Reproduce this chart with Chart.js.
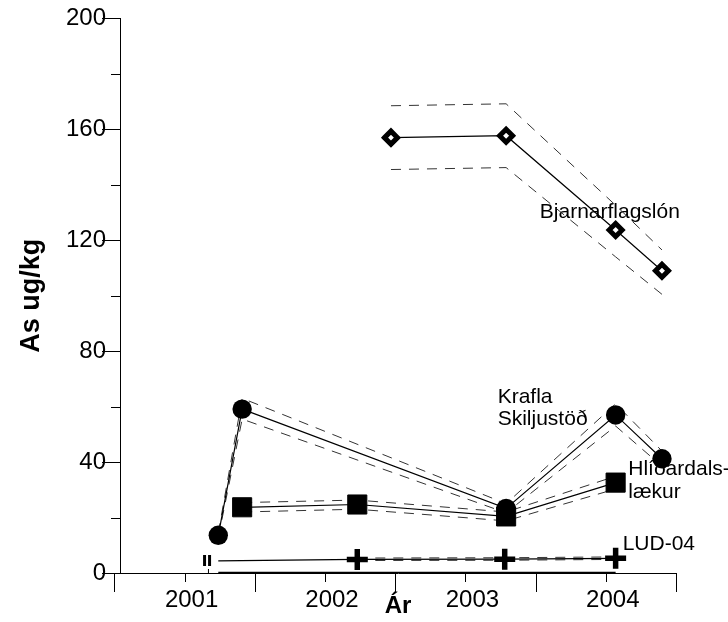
<!DOCTYPE html>
<html lang="en">

<head>
    <meta charset="UTF-8" />
    <script src="https://cdn.jsdelivr.net/npm/chart.js@4.4.1/dist/chart.umd.min.js"></script>
    <style>
        body { margin: 0; background: #fff; }
    </style>
</head>

<body>
    <canvas id="chart" width="728" height="622"></canvas>
    <script>
        // x = decimal year, y = As ug/kg
        const yearTicks = [2000.5, 2001, 2001.5, 2002, 2002.5, 2003, 2003.5, 2004, 2004.5];
        const yearLabels = ['2001', '2002', '2003', '2004'];
        const valueTicks = [0, 20, 40, 60, 80, 100, 120, 140, 160, 180, 200];
        const valueLabels = ['0', '40', '80', '120', '160', '200'];

        const bjarnYears = [2002.47, 2003.29, 2004.07, 2004.40];
        const bjarnValues = [157, 157.7, 123.7, 109];
        const bjarnUpper = [168.5, 169.2, 132.6, 116.5];
        const bjarnLower = [145.5, 146.2, 114, 100.5];

        const kraflaYears = [2001.24, 2001.41, 2003.29, 2004.07, 2004.40];
        const kraflaValues = [13.6, 59.1, 23.3, 57, 41.2];
        const kraflaUpper = [14.4, 63, 25, 61, 44];
        const kraflaLower = [12.8, 55.5, 21.7, 53, 38.5];

        const hlidYears = [2001.41, 2002.23, 2003.29, 2004.07];
        const hlidValues = [23.7, 24.7, 20.4, 32.6];
        const hlidUpper = [25.4, 26.3, 22, 34.9];
        const hlidLower = [22, 23, 18.8, 30.3];

        const ludYears = [2001.24, 2002.23, 2003.28, 2004.07];
        const ludValues = [4.4, 4.9, 5.0, 5.3];
        const ludBandYears = [2002.23, 2003.28, 2004.07];
        const ludUpper = [5.4, 5.5, 5.8];
        const ludLower = [4.5, 4.6, 4.9];
        const ludBaseYears = [2001.24, 2004.07];
        const ludBase = [0, 0];

        const breakYears = [2001.16, 2001.17];
        const breakValues = [4.6, 0];

        // series names written next to the lines, anchored in data units
        const notes = [
            { lines: ['Bjarnarflagslón'], x: 2003.53, y: [128] },
            { lines: ['Krafla', 'Skiljustöð'], x: 2003.23, y: [61.4, 53.4] },
            { lines: ['Hlíðardals-', 'lækur'], x: 2004.16, y: [35.5, 27.2] },
            { lines: ['LUD-04'], x: 2004.12, y: [8.2] }
        ];

        const X_START = 2000.54; // y axis sits just right of the first year tick
        const FONT = '"Liberation Sans", Arial, Helvetica, sans-serif';

        function pts(xs, ys) {
            return xs.map((x, i) => ({ x: x, y: ys[i] }));
        }

        function band(xs, ys) {
            return {
                data: pts(xs, ys), showLine: true, borderColor: '#333', borderWidth: 1,
                borderDash: [10, 8], pointRadius: 0, fill: false
            };
        }

        // "II" mark near the start of LUD-04
        const iiMark = document.createElement('canvas');
        iiMark.width = 10;
        iiMark.height = 11;
        const ic = iiMark.getContext('2d');
        ic.fillStyle = '#000';
        ic.fillRect(1, 0, 3, 11);
        ic.fillRect(6, 0, 3, 11);

        const axisMarks = {
            id: 'axisMarks',
            beforeDatasetsDraw(chart) {
                const { ctx, scales: { x, y } } = chart;
                ctx.save();
                ctx.strokeStyle = '#000';
                ctx.lineWidth = 1;
                valueTicks.forEach(v => {
                    const py = Math.round(y.getPixelForValue(v)) + 0.5;
                    const len = valueLabels.includes(String(v)) ? 18 : 9;
                    ctx.beginPath();
                    ctx.moveTo(x.left - len, py);
                    ctx.lineTo(x.left, py);
                    ctx.stroke();
                });
                yearTicks.forEach(v => {
                    const px = Math.round(x.getPixelForValue(v)) + 0.5;
                    const len = Number.isInteger(v) ? 9 : 19;
                    ctx.beginPath();
                    ctx.moveTo(px, y.bottom);
                    ctx.lineTo(px, y.bottom + len);
                    ctx.stroke();
                });
                ctx.font = '21px ' + FONT;
                ctx.fillStyle = '#000';
                ctx.textAlign = 'left';
                ctx.textBaseline = 'alphabetic';
                notes.forEach(n => {
                    n.lines.forEach((t, i) => {
                        ctx.fillText(t, x.getPixelForValue(n.x), y.getPixelForValue(n.y[i]));
                    });
                });
                ctx.restore();
            }
        };

        const ctx = document.getElementById('chart').getContext('2d');
        new Chart(ctx, {
            type: 'scatter',
            data: {
                datasets: [
                    {
                        data: pts(bjarnYears, bjarnValues), showLine: true, borderColor: '#000', borderWidth: 1.2,
                        pointStyle: 'rectRot', pointRadius: 6.5, pointBorderWidth: 5,
                        pointBackgroundColor: '#fff', pointBorderColor: '#000'
                    },
                    {
                        data: pts(kraflaYears, kraflaValues), showLine: true, borderColor: '#000', borderWidth: 1.2,
                        pointStyle: 'circle', pointRadius: 9.7, pointBorderWidth: 0,
                        pointBackgroundColor: '#000'
                    },
                    {
                        data: pts(hlidYears, hlidValues), showLine: true, borderColor: '#000', borderWidth: 1.2,
                        pointStyle: 'rect', pointRadius: 13.5, pointBorderWidth: 1,
                        pointBackgroundColor: '#000', pointBorderColor: '#000'
                    },
                    {
                        data: pts(ludYears, ludValues), showLine: true, borderColor: '#000', borderWidth: 1.2,
                        pointStyle: 'cross', pointRadius: ludYears.map((v, i) => i === 0 ? 0 : 10.5),
                        pointBorderWidth: 5.5, pointBorderColor: '#000'
                    },
                    {
                        data: pts(breakYears, breakValues), showLine: false,
                        pointStyle: [iiMark, 'line'], pointRotation: [0, 90], pointRadius: [5, 4],
                        pointBorderWidth: 1, pointBorderColor: '#000'
                    },
                    {
                        data: pts(ludBaseYears, ludBase), showLine: true, borderColor: '#000',
                        borderWidth: 2.5, pointRadius: 0
                    },
                    band(bjarnYears, bjarnUpper),
                    band(bjarnYears, bjarnLower),
                    band(kraflaYears, kraflaUpper),
                    band(kraflaYears, kraflaLower),
                    band(hlidYears, hlidUpper),
                    band(hlidYears, hlidLower),
                    band(ludBandYears, ludUpper),
                    band(ludBandYears, ludLower)
                ]
            },
            options: {
                responsive: false,
                animation: false,
                devicePixelRatio: 1,
                layout: { padding: { top: 15, right: 52, bottom: 0, left: 0 } },
                plugins: {
                    legend: { display: false },
                    tooltip: { enabled: false }
                },
                scales: {
                    x: {
                        type: 'linear',
                        min: X_START,
                        max: 2004.5,
                        afterBuildTicks: s => { s.ticks = yearTicks.map(v => ({ value: v })); },
                        afterFit: s => { s.height = 49; },
                        grid: { display: false, drawTicks: true, tickLength: 10 },
                        border: { display: true, color: '#000', width: 1 },
                        ticks: {
                            autoSkip: false, maxRotation: 0, padding: 3, labelOffset: 7, color: '#000',
                            font: { family: FONT, size: 24 },
                            callback: v => yearLabels.includes(String(v)) ? String(v) : ''
                        },
                        title: {
                            display: true, text: 'Ár', color: '#000',
                            font: { family: FONT, size: 24, weight: 'bold' },
                            padding: { top: 0, bottom: 1 }
                        }
                    },
                    y: {
                        min: 0,
                        max: 200,
                        afterBuildTicks: s => { s.ticks = valueTicks.map(v => ({ value: v })); },
                        afterFit: s => { s.width = 120; },
                        grid: { display: false, drawTicks: true, tickLength: 10 },
                        border: { display: true, color: '#000', width: 1 },
                        ticks: {
                            padding: 4, color: '#000',
                            font: { family: FONT, size: 24 },
                            callback: v => valueLabels.includes(String(v)) ? String(v) : ''
                        },
                        title: {
                            display: true, text: 'As ug/kg', color: '#000',
                            font: { family: FONT, size: 27, weight: 'bold' },
                            padding: { top: 15, bottom: 0 }
                        }
                    }
                }
            },
            plugins: [axisMarks]
        });
    </script>
</body>

</html>
